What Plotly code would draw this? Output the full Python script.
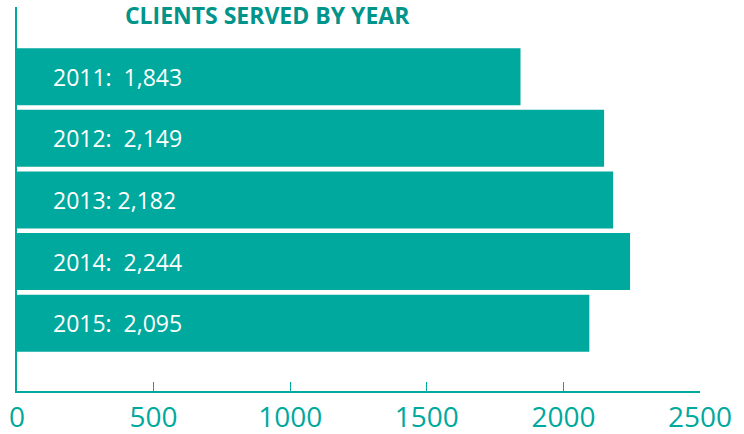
import plotly.graph_objects as go

years = ["2011", "2012", "2013", "2014", "2015"]
clients = [1843, 2149, 2182, 2244, 2095]
bar_labels = ["2011:  1,843", "2012:  2,149", "2013: 2,182", "2014:  2,244", "2015:  2,095"]
tick_vals = [0, 500, 1000, 1500, 2000, 2500]
tick_text = ["0", "500", "1000", "1500", "2000", "2500"]

TEAL = "#00A99D"
TITLE_TEAL = "#00948A"

positions = list(range(len(years)))

fig = go.Figure()
fig.add_trace(go.Bar(
    x=clients, y=positions, orientation="h",
    marker=dict(color=TEAL, line=dict(width=0)),
    hoverinfo="skip",
))

for p, lab in zip(positions, bar_labels):
    fig.add_annotation(
        x=0, y=p, xref="x", yref="y", text=lab, showarrow=False,
        xanchor="left", yanchor="middle", xshift=34,
        font=dict(family="Open Sans", size=23, color="white"),
    )

fig.update_layout(
    width=744, height=434,
    margin=dict(l=17, r=44, t=7, b=43, autoexpand=False),
    paper_bgcolor="white", plot_bgcolor="white",
    showlegend=False,
    bargap=0.075,
    title=dict(
        text="<b>CLIENTS SERVED BY YEAR</b>",
        x=0.359, xanchor="center", y=1 - 16 / 434, yanchor="middle",
        font=dict(family="Open Sans", size=23, color=TITLE_TEAL),
    ),
    xaxis=dict(
        range=[0, 2500], tickvals=tick_vals, ticktext=tick_text,
        showgrid=False, zeroline=False, automargin=False,
        showline=True, linecolor=TEAL, linewidth=2,
        ticks="inside", ticklen=9, tickwidth=1, tickcolor=TEAL,
        tickfont=dict(family="Open Sans", size=28, color=TEAL),
    ),
    yaxis=dict(
        range=[5.10, -1.13], showticklabels=False, showgrid=False,
        zeroline=False, showline=True, linecolor=TEAL, linewidth=2,
        ticks="", automargin=False,
    ),
)

fig.write_html(
    "out.html",
    config={"displayModeBar": False},
    post_script="document.body.style.margin='0';document.body.style.overflow='hidden';",
)
